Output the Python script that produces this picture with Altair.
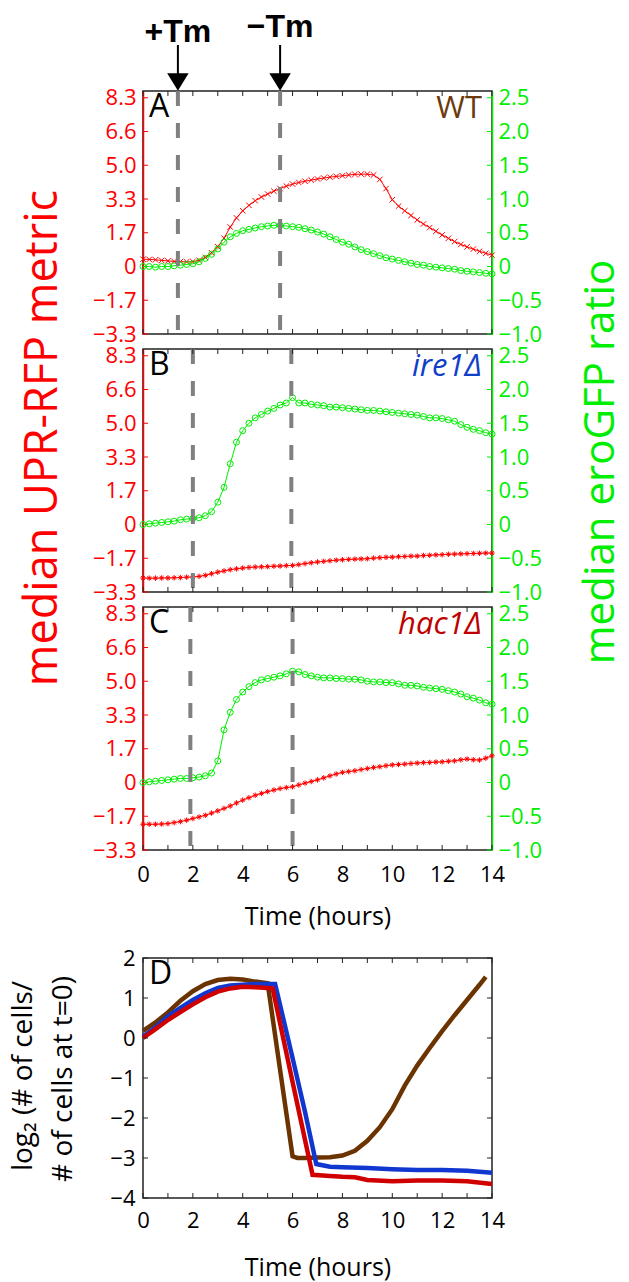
import altair as alt
import pandas as pd

# ---------------- data ----------------
TIME = [i * 0.25 for i in range(57)]  # hours, sampling grid 0..14

A_RED = [0.36, 0.35, 0.33, 0.30, 0.28, 0.25, 0.24, 0.23, 0.24, 0.30,
         0.45, 0.68, 0.98, 1.40, 1.95, 2.40, 2.75, 3.02, 3.25, 3.43,
         3.58, 3.72, 3.85, 3.97, 4.07, 4.15, 4.21, 4.27, 4.32, 4.37,
         4.41, 4.45, 4.48, 4.52, 4.55, 4.56, 4.56, 4.52, 4.30, 3.85,
         3.30, 2.98, 2.75, 2.52, 2.30, 2.10, 1.92, 1.74, 1.56, 1.39,
         1.23, 1.09, 0.97, 0.86, 0.75, 0.65, 0.56]
A_GREEN = [0.0, 0.0, -0.01, 0.0, 0.0, 0.01, 0.02, 0.03, 0.04, 0.07,
           0.12, 0.18, 0.26, 0.36, 0.44, 0.49, 0.53, 0.55, 0.57, 0.59,
           0.60, 0.61, 0.61, 0.60, 0.59, 0.58, 0.56, 0.54, 0.51, 0.48,
           0.44, 0.40, 0.36, 0.33, 0.29, 0.25, 0.22, 0.19, 0.16, 0.13,
           0.11, 0.09, 0.07, 0.05, 0.03, 0.02, 0.0, -0.01, -0.02, -0.03,
           -0.04, -0.06, -0.07, -0.08, -0.09, -0.10, -0.11]
B_RED = [-2.64, -2.65, -2.65, -2.64, -2.64, -2.63, -2.62, -2.60, -2.59, -2.56,
         -2.51, -2.43, -2.35, -2.29, -2.23, -2.19, -2.15, -2.12, -2.10, -2.09,
         -2.08, -2.06, -2.05, -2.03, -2.02, -1.98, -1.93, -1.89, -1.85, -1.82,
         -1.79, -1.76, -1.74, -1.72, -1.71, -1.70, -1.69, -1.66, -1.64, -1.62,
         -1.61, -1.59, -1.58, -1.56, -1.56, -1.53, -1.52, -1.50, -1.49, -1.47,
         -1.46, -1.45, -1.44, -1.43, -1.42, -1.41, -1.41]
B_GREEN = [0.0, 0.01, 0.02, 0.03, 0.04, 0.05, 0.07, 0.08, 0.09, 0.10,
           0.13, 0.19, 0.33, 0.55, 0.90, 1.22, 1.39, 1.50, 1.58, 1.63,
           1.68, 1.72, 1.77, 1.80, 1.88, 1.80, 1.80, 1.78, 1.77, 1.76,
           1.74, 1.74, 1.73, 1.72, 1.71, 1.70, 1.69, 1.69, 1.68, 1.67,
           1.66, 1.65, 1.64, 1.63, 1.62, 1.60, 1.58, 1.58, 1.57, 1.55,
           1.53, 1.48, 1.44, 1.41, 1.39, 1.36, 1.34]
C_RED = [-2.06, -2.06, -2.06, -2.05, -2.03, -1.98, -1.93, -1.86, -1.78, -1.70,
         -1.62, -1.51, -1.40, -1.28, -1.16, -1.01, -0.87, -0.75, -0.63, -0.54,
         -0.45, -0.37, -0.30, -0.25, -0.21, -0.12, -0.03, 0.05, 0.13, 0.23,
         0.33, 0.42, 0.50, 0.54, 0.58, 0.64, 0.69, 0.74, 0.78, 0.83,
         0.87, 0.89, 0.91, 0.94, 0.96, 0.98, 0.99, 1.01, 1.02, 1.05,
         1.07, 1.12, 1.16, 1.12, 1.11, 1.20, 1.32]
C_GREEN = [0.0, 0.01, 0.02, 0.03, 0.04, 0.05, 0.06, 0.06, 0.07, 0.08,
           0.10, 0.14, 0.32, 0.78, 1.04, 1.23, 1.34, 1.42, 1.48, 1.52,
           1.54, 1.56, 1.58, 1.61, 1.65, 1.64, 1.60, 1.58, 1.56, 1.55,
           1.55, 1.54, 1.54, 1.53, 1.53, 1.52, 1.50, 1.49, 1.49, 1.48,
           1.48, 1.46, 1.44, 1.44, 1.43, 1.41, 1.40, 1.39, 1.38, 1.36,
           1.34, 1.31, 1.27, 1.25, 1.22, 1.18, 1.16]

TM_A = [1.4, 5.5]
TM_B = [2.0, 5.95]
TM_C = [1.9, 6.0]
TM_LABELS = ["+Tm", "\u2212Tm"]

D_WT_T = [0, 0.5, 1, 1.5, 2, 2.5, 3, 3.5, 4, 4.5, 5, 5.5, 6, 6.2, 6.5, 7, 7.5, 8, 8.5, 9,
          9.5, 10, 10.5, 11, 11.5, 12, 12.5, 13, 13.5, 13.75]
D_WT = [0.18, 0.39, 0.64, 0.93, 1.17, 1.35, 1.45, 1.48, 1.46, 1.41, 1.37, -0.8, -2.96, -3.0,
        -3.0, -2.99, -2.98, -2.94, -2.82, -2.57, -2.23, -1.78, -1.19, -0.69, -0.25, 0.17,
        0.57, 0.95, 1.33, 1.53]
D_IRE_T = [0, 0.5, 1, 1.5, 2, 2.5, 3, 3.5, 4, 4.5, 5, 5.3, 6, 6.5, 6.95, 7.5, 8, 9, 10, 11,
           12, 13, 14]
D_IRE = [0.03, 0.27, 0.54, 0.75, 0.95, 1.12, 1.25, 1.31, 1.33, 1.35, 1.35, 1.35, -0.5, -1.85,
         -3.15, -3.22, -3.23, -3.25, -3.28, -3.30, -3.30, -3.32, -3.37]
D_HAC_T = [0, 0.5, 1, 1.5, 2, 2.5, 3, 3.5, 4, 4.5, 5, 5.2, 6, 6.5, 6.8, 7.5, 8, 8.5, 9, 10,
           11, 12, 13, 14]
D_HAC = [0.0, 0.22, 0.45, 0.65, 0.84, 1.02, 1.16, 1.24, 1.28, 1.27, 1.25, 1.24, -1.1, -2.55,
         -3.42, -3.45, -3.47, -3.48, -3.55, -3.58, -3.56, -3.56, -3.58, -3.65]
D_TITLE = ["log\u2082 (# of cells/", "# of cells at t=0)"]

RED_TICKS = [-3.333, -1.667, 0, 1.667, 3.333, 5.0, 6.667, 8.333]
RED_TICK_LABELS = ["\u22123.3", "\u22121.7", "0", "1.7", "3.3", "5.0", "6.6", "8.3"]
GREEN_TICKS = [-1.0, -0.5, 0, 0.5, 1.0, 1.5, 2.0, 2.5]
GREEN_TICK_LABELS = ["\u22121.0", "\u22120.5", "0", "0.5", "1.0", "1.5", "2.0", "2.5"]
RED_DOMAIN = [-3.333, 8.667]
GREEN_DOMAIN = [-1.0, 2.6]
HOUR_TICKS = list(range(15))
X_LABELS = [0, 2, 4, 6, 8, 10, 12, 14]
D_YTICKS = [-4, -3, -2, -1, 0, 1, 2]
D_DOMAIN = [-4, 2]

# ---------------- style ----------------
W, H, HD = 349, 243, 240
RED = "#FF0000"
GREEN = "#00EE00"
FONT = "Open Sans"
BOLDFONT = "Liberation Sans Narrow, Liberation Sans, Arial"
FRAME = "#222222"
TICKFS = 22
X_SHAPE = "M-1,-1L1,1M-1,1L1,-1"
STAR_SHAPE = "M-1,0L1,0M0,-1L0,1M-0.7,-0.7L0.7,0.7M-0.7,0.7L0.7,-0.7"
HEAD_SHAPE = "M-1,-0.82L1,-0.82L0,0.82Z"


def label_expr(vals, labels):
    parts = [f"abs(datum.value - ({v})) < 0.01 ? '{l}'" for v, l in zip(vals, labels)]
    return " : ".join(parts) + " : ''"


def xenc(show_x, lab_pad=14, title_pad=19):
    if show_x:
        ax = alt.Axis(values=X_LABELS, ticks=False, domain=False, labelPadding=lab_pad,
                      labelFontSize=TICKFS, labelFont=FONT, labelColor="black", labelFlush=False,
                      labelOverlap=False, title="Time (hours)", titleFontSize=25,
                      titleFont=FONT, titleFontWeight="normal", titleColor="black",
                      titlePadding=title_pad, grid=False)
    else:
        ax = None
    return alt.X("t:Q", scale=alt.Scale(domain=[0, 14], nice=False, zero=False), axis=ax)


def hour_ticks(x, h):
    tdf = pd.DataFrame({"t": HOUR_TICKS})
    top = alt.Chart(tdf).mark_rule(color=FRAME, strokeWidth=1).encode(
        x=x, y=alt.value(0), y2=alt.value(5))
    bot = alt.Chart(tdf).mark_rule(color=FRAME, strokeWidth=1).encode(
        x=x, y=alt.value(h - 5), y2=alt.value(h))
    return [top, bot]


def panel(letter, strain, strain_color, italic, red_vals, green_vals, tm, red_shape,
          show_x, arrows=False, side_titles=False):
    x = xenc(show_x)
    df = pd.DataFrame({"t": TIME, "red": red_vals, "green": green_vals})
    ry = alt.Y("red:Q", scale=alt.Scale(domain=RED_DOMAIN, nice=False, zero=False),
               axis=alt.Axis(orient="left", values=RED_TICKS,
                             labelExpr=label_expr(RED_TICKS, RED_TICK_LABELS),
                             ticks=False, domainColor=RED, domainWidth=1.5,
                             labelColor=RED, labelFontSize=TICKFS, labelFont=FONT,
                             labelPadding=7, labelOverlap=False, title=None, grid=False))
    gy = alt.Y("green:Q", scale=alt.Scale(domain=GREEN_DOMAIN, nice=False, zero=False),
               axis=alt.Axis(orient="right", values=GREEN_TICKS,
                             labelExpr=label_expr(GREEN_TICKS, GREEN_TICK_LABELS),
                             ticks=False, domainColor=GREEN, domainWidth=1.5,
                             labelColor=GREEN, labelFontSize=TICKFS, labelFont=FONT,
                             labelPadding=6, labelOverlap=False, title=None, grid=False))
    red_layer = alt.layer(
        alt.Chart(df).mark_line(color=RED, strokeWidth=1).encode(x=x, y=ry),
        alt.Chart(df).mark_point(shape=red_shape, filled=False, color=RED, size=30,
                                 strokeWidth=1, opacity=1).encode(x=x, y=ry),
        alt.Chart(pd.DataFrame({"red": RED_TICKS})).mark_rule(color=RED, strokeWidth=1).encode(
            y=ry, x=alt.value(0), x2=alt.value(5)),
    )
    green_layer = alt.layer(
        alt.Chart(df).mark_line(color=GREEN, strokeWidth=1).encode(x=x, y=gy),
        alt.Chart(df).mark_point(shape="circle", filled=False, color=GREEN, size=36,
                                 strokeWidth=1, opacity=1).encode(x=x, y=gy),
        alt.Chart(pd.DataFrame({"green": GREEN_TICKS})).mark_rule(color=GREEN, strokeWidth=1).encode(
            y=gy, x=alt.value(W - 5), x2=alt.value(W)),
    )
    tmdf = pd.DataFrame({"t": tm, "lab": TM_LABELS})
    common = [
        alt.Chart(tmdf).mark_rule(color="#808080", strokeWidth=4, strokeDash=[15, 17]).encode(x=x),
        *hour_ticks(x, H),
        alt.Chart(pd.DataFrame({"lab": [letter]})).mark_text(
            align="left", baseline="top", fontSize=32, font=FONT, color="black").encode(
            text="lab:N", x=alt.value(6), y=alt.value(1)),
        alt.Chart(pd.DataFrame({"lab": [strain]})).mark_text(
            align="right", baseline="top", fontSize=31, font=FONT, color=strain_color,
            fontStyle="italic" if italic else "normal").encode(
            text="lab:N", x=alt.value(W - 10), y=alt.value(3)),
    ]
    if arrows:
        common += [
            alt.Chart(tmdf).mark_rule(color="black", strokeWidth=2).encode(
                x=x, y=alt.value(-46), y2=alt.value(-16)),
            alt.Chart(tmdf).mark_point(shape=HEAD_SHAPE, filled=True, color="black", size=460,
                                       opacity=1).encode(x=x, y=alt.value(-9)),
            alt.Chart(tmdf.iloc[[0]]).mark_text(
                align="center", baseline="alphabetic", fontSize=32, fontWeight="bold",
                font=BOLDFONT, color="black").encode(text="lab:N", x=x, y=alt.value(-49)),
            alt.Chart(tmdf.iloc[[1]]).mark_text(
                align="center", baseline="alphabetic", fontSize=32, fontWeight="bold",
                font=BOLDFONT, color="black").encode(text="lab:N", x=x, y=alt.value(-54)),
        ]
    if side_titles:
        common += [
            alt.Chart(pd.DataFrame({"lab": ["median UPR-RFP metric"]})).mark_text(
                angle=270, align="center", baseline="alphabetic", fontSize=45, font=FONT,
                color=RED).encode(text="lab:N", x=alt.value(-86), y=alt.value(89)),
            alt.Chart(pd.DataFrame({"lab": ["median eroGFP ratio"]})).mark_text(
                angle=270, align="center", baseline="alphabetic", fontSize=42, font=FONT,
                color=GREEN).encode(text="lab:N", x=alt.value(W + 122), y=alt.value(113)),
        ]
    return alt.layer(red_layer, green_layer, *common).resolve_scale(y="independent").properties(
        width=W, height=H)


pA = panel("A", "WT", "#6B3A0A", False, A_RED, A_GREEN, TM_A, X_SHAPE, False, arrows=True)
pB = panel("B", "ire1\u0394", "#1040C8", True, B_RED, B_GREEN, TM_B, STAR_SHAPE, False,
           side_titles=True)
pC = panel("C", "hac1\u0394", "#C00000", True, C_RED, C_GREEN, TM_C, STAR_SHAPE, True)

spacer = alt.Chart(pd.DataFrame({"s": [0]})).mark_point(opacity=0).encode(
    x=alt.value(0), y=alt.value(0)).properties(
    width=W, height=78, view=alt.ViewBackground(stroke="transparent"))

# ---------------- panel D ----------------
dx = xenc(True, lab_pad=12, title_pad=24)
dy = alt.Y("v:Q", scale=alt.Scale(domain=D_DOMAIN, nice=False, zero=False),
           axis=alt.Axis(values=D_YTICKS, ticks=False, domain=False, labelFontSize=TICKFS,
                         labelFont=FONT, labelPadding=8, labelColor="black", labelOverlap=False,
                         title=None, grid=False))


def dline(tv, vv, color):
    return alt.Chart(pd.DataFrame({"t": tv, "v": vv})).mark_line(
        color=color, strokeWidth=4.5).encode(x=dx, y=dy)


ydf = pd.DataFrame({"v": D_YTICKS})
pD = alt.layer(
    dline(D_WT_T, D_WT, "#6B3300"),
    dline(D_IRE_T, D_IRE, "#1038D0"),
    dline(D_HAC_T, D_HAC, "#D00000"),
    *hour_ticks(dx, HD),
    alt.Chart(ydf).mark_rule(color=FRAME, strokeWidth=1).encode(y=dy, x=alt.value(0), x2=alt.value(5)),
    alt.Chart(ydf).mark_rule(color=FRAME, strokeWidth=1).encode(y=dy, x=alt.value(W - 5), x2=alt.value(W)),
    alt.Chart(pd.DataFrame({"lab": ["D"]})).mark_text(
        align="left", baseline="top", fontSize=32, font=FONT, color="black").encode(
        text="lab:N", x=alt.value(6), y=alt.value(1)),
    alt.Chart(pd.DataFrame({"lab": [D_TITLE[0]]})).mark_text(
        angle=270, align="center", baseline="alphabetic", fontSize=28, font=FONT,
        color="black").encode(text="lab:N", x=alt.value(-111), y=alt.value(118)),
    alt.Chart(pd.DataFrame({"lab": [D_TITLE[1]]})).mark_text(
        angle=270, align="center", baseline="alphabetic", fontSize=28, font=FONT,
        color="black").encode(text="lab:N", x=alt.value(-71), y=alt.value(121)),
).properties(width=W, height=HD)

chart = alt.vconcat(pA, pB, pC, spacer, pD, spacing=15, bounds="flush").properties(
    padding={"left": 9, "top": 10, "right": 0, "bottom": 0}
).configure_view(stroke=FRAME, strokeWidth=1.5).configure_axis(grid=False)

chart.save("out.html", embed_options={"renderer": "svg", "actions": False})
